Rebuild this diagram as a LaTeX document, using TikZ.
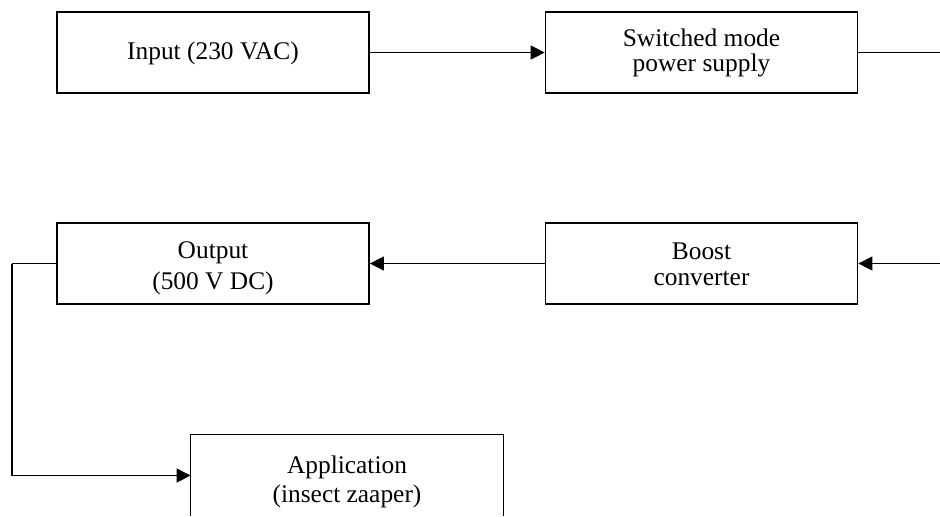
\documentclass[tikz,border=0pt]{standalone}
\usepackage{fontspec}
\setmainfont{Liberation Serif}
\usetikzlibrary{arrows.meta}
\begin{document}
\begin{tikzpicture}[x=0.5pt,y=-0.5pt,
  boxshape/.style={minimum width=156pt, minimum height=40.5pt, inner sep=0pt},
  blk/.style={boxshape, draw, line width=0.85pt},
  txt/.style={inner sep=0pt, align=center},
  ls/.style={font=\fontsize{12.7}{#1}\selectfont},
  conn/.style={line width=0.55pt},
  arr/.style={conn, -{Triangle[length=7pt,width=7pt]}}]
\useasboundingbox (0,0) rectangle (940,516);
\node[blk] (inp) at (213,52.5) {};
\node[txt, ls=13pt] (inpT) at ([yshift=-0.5pt]inp.center) {Input (230 VAC)};
\node[blk] (smps) at (701.5,52.5) {};
\node[txt, ls=12.5pt] (smpsT) at (smps.center) {Switched mode\\power supply};
\node[blk] (out) at (213,263.5) {};
\node[txt, ls=15.5pt] (outT) at ([yshift=-2.5pt]out.center) {Output\\(500 V DC)};
\node[blk] (boost) at (701.5,263.5) {};
\node[txt, ls=13pt] (boostT) at ([yshift=-0.5pt]boost.center) {Boost\\converter};
\node[boxshape] (app) at (347,475.5) {};
\node[txt, ls=14.5pt] (appT) at ([yshift=-3pt]app.center) {Application\\(insect zaaper)};
\draw[line width=0.85pt] (app.south west) -- (app.north west) -- (app.north east) -- (app.south east);
\coordinate (r1) at (940,52.5);
\coordinate (r2) at (940,263.5);
\coordinate (lft) at (12,263.5);
\draw[arr] (inp) -- (smps);
\draw[conn] (smps.east) -- (r1);
\draw[arr] (r2) -- (boost.east);
\draw[arr] (boost) -- (out);
\draw[conn] (out.west) -- (lft);
\draw[arr] (lft) |- (app.west);
\end{tikzpicture}
\end{document}
